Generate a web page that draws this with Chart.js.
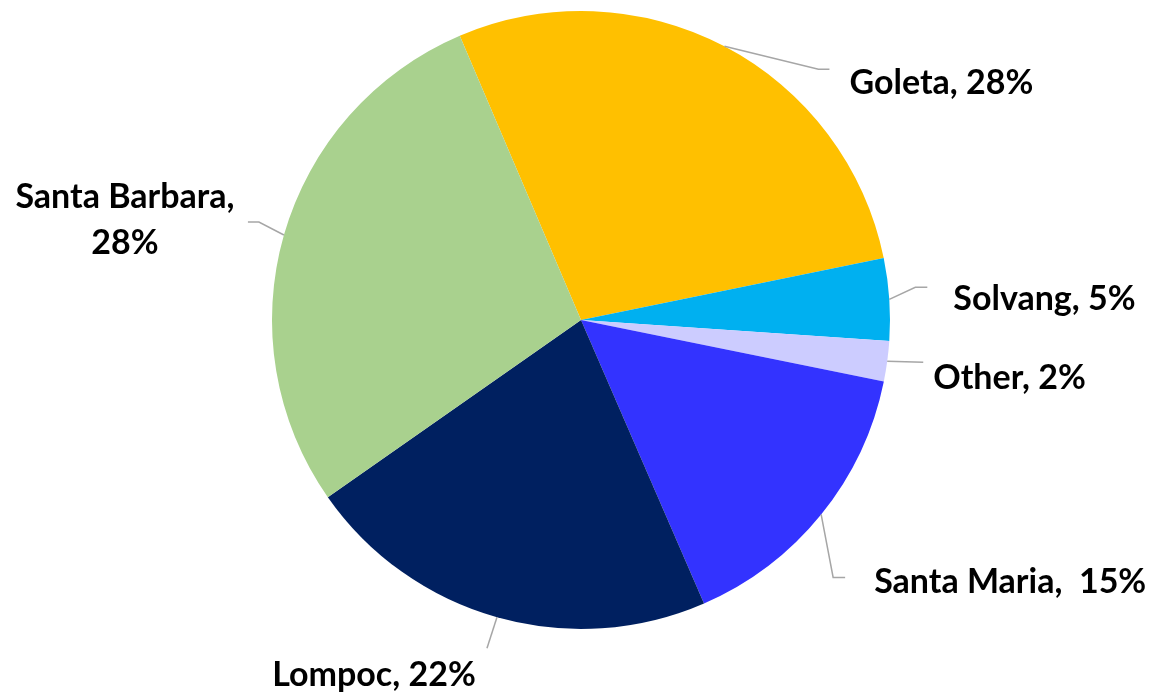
<!DOCTYPE html>
<html>
<head>
<meta charset="utf-8">
<script src="https://cdn.jsdelivr.net/npm/chart.js@4.4.1/dist/chart.umd.min.js"></script>
<style>
html,body{margin:0;padding:0;background:#fff;}
#wrap{width:1159px;height:692px;position:relative;}
</style>
</head>
<body>
<div id="wrap"><canvas id="c" width="1159" height="692"></canvas></div>
<script>
const categories = ["Goleta", "Solvang", "Other", "Santa Maria", "Lompoc", "Santa Barbara"];
const values = [28.2, 4.3, 2.1, 15.3, 21.8, 28.3];
const labelTexts = [["Goleta, 28%"], ["Solvang, 5%"], ["Other, 2%"], ["Santa Maria,  15%"], ["Lompoc, 22%"], ["Santa Barbara,", "28%"]];
const colors = ["#FFC000", "#00B0F0", "#CCCCFF", "#3333FF", "#002060", "#A9D18E"];

// label layout: elbow offset from anchor, hook length, text offset from line end, alignment
const layout = [
  {ex: 94, ey: 23, h: 11, tx: 20, ty: 14, align: "left"},
  {ex: 26, ey: -12, h: 12, tx: 26, ty: 12, align: "left"},
  {ex: 36, ey: 1, h: 0, tx: 10, ty: 16, align: "left"},
  {ex: 12, ey: 63, h: 12, tx: 29, ty: 5, align: "left"},
  {ex: -10, ey: 31, h: 0, tx: -113, ty: 27, align: "center"},
  {ex: -25, ey: -13, h: -11, tx: -123, ty: -25, align: "center"}
];

const labelPlugin = {
  id: "leaderLabels",
  afterDatasetsDraw(chart) {
    const ctx = chart.ctx;
    const meta = chart.getDatasetMeta(0);
    ctx.save();
    meta.data.forEach((arc, i) => {
      const p = arc.getProps(["x", "y", "startAngle", "endAngle", "outerRadius"], true);
      const mid = (p.startAngle + p.endAngle) / 2;
      const ax = p.x + Math.cos(mid) * p.outerRadius;
      const ay = p.y + Math.sin(mid) * p.outerRadius;
      const L = layout[i];
      const bx = ax + L.ex, by = ay + L.ey;
      const cx = bx + L.h, cy = by;
      ctx.strokeStyle = "#A6A6A6";
      ctx.lineWidth = 1.5;
      ctx.beginPath();
      ctx.moveTo(ax, ay);
      ctx.lineTo(bx, by);
      if (L.h !== 0) ctx.lineTo(cx, cy);
      ctx.stroke();
      ctx.fillStyle = "#000";
      ctx.font = "bold 34px Lato";
      ctx.textAlign = L.align;
      ctx.textBaseline = "middle";
      const lines = labelTexts[i];
      lines.forEach((t, k) => {
        ctx.fillText(t, cx + L.tx, cy + L.ty + k * 46);
      });
    });
    ctx.restore();
  }
};

new Chart(document.getElementById("c"), {
  type: "pie",
  data: {
    labels: categories,
    datasets: [{
      data: values,
      backgroundColor: colors,
      borderWidth: 0,
      hoverOffset: 0,
      offset: 0
    }]
  },
  options: {
    responsive: false,
    animation: false,
    events: [],
    rotation: -23.1,
    layout: {padding: {left: 3, right: 0, top: 11, bottom: 63}},
    plugins: {legend: {display: false}, tooltip: {enabled: false}}
  },
  plugins: [labelPlugin]
});
</script>
</body>
</html>
